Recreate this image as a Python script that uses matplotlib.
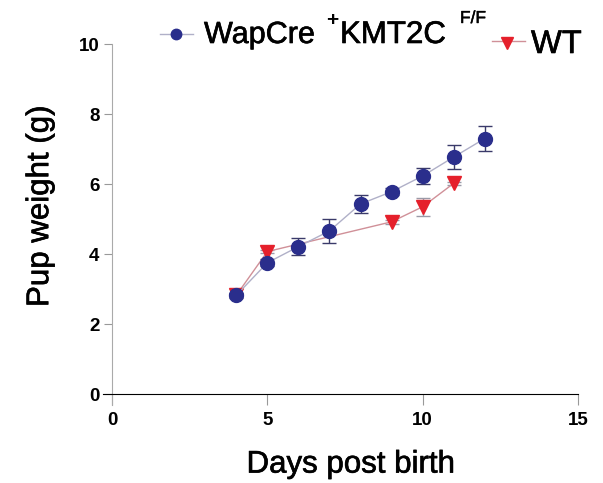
import matplotlib.pyplot as plt
import matplotlib.patheffects as pe
from matplotlib.lines import Line2D

# pup weight by day, mean and error
days_ko = [4, 5, 6, 7, 8, 9, 10, 11, 12]
weight_ko = [2.82, 3.75, 4.21, 4.66, 5.43, 5.78, 6.23, 6.77, 7.30]
err_ko = [0.08, 0.1, 0.24, 0.35, 0.27, 0.1, 0.22, 0.35, 0.35]

days_wt = [4, 5, 9, 10, 11]
weight_wt = [2.82, 4.07, 4.92, 5.35, 6.02]
err_wt = [0.05, 0.05, 0.05, 0.25, 0.05]

x_ticks = [0, 5, 10, 15]
y_ticks = [0, 2, 4, 6, 8, 10]

plt.rcParams['font.family'] = ['Liberation Sans', 'DejaVu Sans']

W, H = 603, 483
fig = plt.figure(figsize=(W / 100, H / 100), dpi=100)
ax = fig.add_axes([0.1703, 0.1625, 0.7882, 0.7464])

blue = '#2a2e8c'
red = '#e5202b'
blue_line = '#b0b0c8'
red_line = '#d09098'

# slightly heavier strokes for the big labels
thick = [pe.withStroke(linewidth=0.45, foreground='black')]

# WT first so the knockout circles sit on top
ax.errorbar(days_wt, weight_wt, yerr=err_wt, color=red_line, lw=1,
            marker='v', ms=10, mfc=red, mec=red, ecolor='#9a9aa8',
            elinewidth=1, capsize=5, zorder=3)
ax.errorbar(days_ko, weight_ko, yerr=err_ko, color=blue_line, lw=1,
            marker='o', ms=10, mfc=blue, mec=blue, ecolor='#3a3a6a',
            elinewidth=1, capsize=5, zorder=4)

ax.set_xlim(-0.3, 15)
ax.set_ylim(-0.3, 10)
ax.spines['left'].set_position(('data', 0))
ax.spines['bottom'].set_position(('data', 0))
ax.spines['top'].set_visible(False)
ax.spines['right'].set_visible(False)
ax.spines['left'].set_color('#aaaaaa')
ax.spines['bottom'].set_color('black')
ax.spines['left'].set_bounds(-0.3, 10)
ax.spines['bottom'].set_bounds(-0.3, 15)

ax.set_xticks(x_ticks)
ax.set_yticks(y_ticks)
ax.tick_params(axis='x', direction='out', length=8, color='#999999',
               labelsize=13.5, pad=5)
ax.tick_params(axis='y', direction='out', length=6, color='#999999',
               labelsize=13.5, pad=3)
for lab in ax.get_xticklabels() + ax.get_yticklabels():
    lab.set_fontweight('bold')

ax.set_xlabel('Days post birth', fontsize=22.5, path_effects=thick)
ax.xaxis.set_label_coords(0.522, -0.125)
ax.set_ylabel('Pup weight (g)', fontsize=22.5, path_effects=thick)
ax.yaxis.set_label_coords(-0.1, 0.55)


# legend laid out by hand along the top
def fx(px):
    return px / W


def fy(py):
    return 1 - py / H


fig.add_artist(Line2D([fx(160), fx(193)], [fy(34), fy(34)], color=blue_line,
                      lw=1, transform=fig.transFigure))
fig.add_artist(Line2D([fx(176)], [fy(34)], marker='o', ms=7.5, color=blue,
                      transform=fig.transFigure))
fig.text(fx(204), fy(43), 'WapCre', fontsize=22, va='baseline',
         path_effects=thick)
fig.text(fx(326), fy(26), '+', fontsize=15, fontweight='bold',
         va='baseline')
fig.text(fx(340), fy(43), 'KMT2C', fontsize=22.5, va='baseline',
         path_effects=thick)
fig.text(fx(460), fy(23), 'F/F', fontsize=12.5, va='baseline',
         path_effects=[pe.withStroke(linewidth=0.3, foreground='black')])

fig.add_artist(Line2D([fx(492), fx(525)], [fy(41), fy(41)], color=red_line,
                      lw=1, transform=fig.transFigure))
fig.add_artist(Line2D([fx(507)], [fy(43)], marker='v', ms=9, color=red,
                      transform=fig.transFigure))
fig.text(fx(531), fy(53), 'WT', fontsize=23.5, va='baseline',
         path_effects=thick)

fig.savefig('out.png', dpi=100)
